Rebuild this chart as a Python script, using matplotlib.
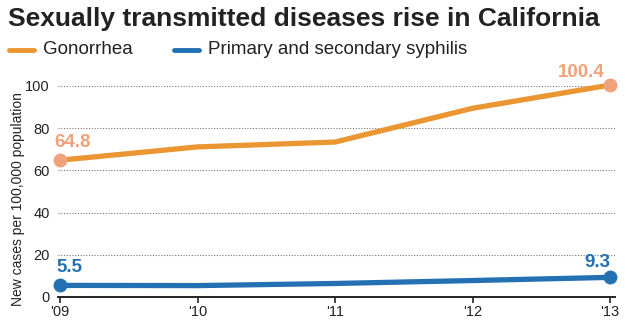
import matplotlib.pyplot as plt

years = ["'09", "'10", "'11", "'12", "'13"]
gonorrhea = [64.8, 71.1, 73.4, 89.4, 100.4]
syphilis = [5.5, 5.4, 6.4, 7.8, 9.3]
yticks = [0, 20, 40, 60, 80, 100]

orange = '#EA9632'
orange_lt = '#F0A27A'
blue = '#2371B2'

plt.rcParams['font.family'] = ['Liberation Sans', 'DejaVu Sans']

fig = plt.figure(figsize=(6.3, 3.26), dpi=100)
W, H = 630, 326
ax = fig.add_axes([58 / W, 1 - 297 / H, (615 - 58) / W, (297 - 80) / H])

x = list(range(len(years)))
ax.plot(x, gonorrhea, color=orange, lw=3.8, solid_capstyle='round', zorder=3)
ax.plot(x, syphilis, color=blue, lw=3.8, solid_capstyle='round', zorder=3)
for s, c in [(gonorrhea, orange_lt), (syphilis, blue)]:
    ax.plot([x[0], x[-1]], [s[0], s[-1]], 'o', color=c, ms=9, zorder=4, clip_on=False)

ax.set_xlim(-2 / 137.5, 4 + 5 / 137.5)
ax.set_ylim(0, 102.8)
ax.set_xticks(x)
ax.set_xticklabels(years, fontsize=10.5, color='#222222')
ax.set_yticks(yticks)
ax.set_yticklabels([str(v) for v in yticks], fontsize=10.5, color='#222222')
ax.tick_params(axis='y', length=0, pad=6)
ax.tick_params(axis='x', length=4, width=1.2, color='#222222', pad=1.5)

for v in yticks[1:]:
    ax.axhline(v, color='#777777', lw=0.8, ls=(0, (1, 1.5)), zorder=1)

for side in ['top', 'right', 'left']:
    ax.spines[side].set_visible(False)
ax.spines['bottom'].set_color('#222222')
ax.spines['bottom'].set_linewidth(1.4)

ax.set_ylabel('New cases per 100,000 population', fontsize=10, color='#222222')
ax.yaxis.set_label_coords(-33 / 557, 0.45)

# value labels on the end points
def label(xi, yi, text, color, dx, dy, ha):
    ax.annotate(text, (xi, yi), xytext=(dx, dy), textcoords='offset pixels',
                ha=ha, va='center', fontsize=13.5, fontweight='bold', color=color)

label(x[0], gonorrhea[0], f'{gonorrhea[0]}', orange_lt, -6, 18, 'left')
label(x[-1], gonorrhea[-1], f'{gonorrhea[-1]}', orange_lt, -5, 13, 'right')
label(x[0], syphilis[0], f'{syphilis[0]}', blue, -4, 18, 'left')
label(x[-1], syphilis[-1], f'{syphilis[-1]}', blue, 0, 15, 'right')

fig.text(8 / W, 1 - 19 / H, 'Sexually transmitted diseases rise in California',
         fontsize=19, fontweight='bold', color='#222222', va='center', ha='left')

# legend row
for lx, name, c in [(8, 'Gonorrhea', orange), (173, 'Primary and secondary syphilis', blue)]:
    fig.add_artist(plt.Line2D([(lx + 1) / W, (lx + 26) / W], [1 - 50 / H] * 2, color=c, lw=3.5,
                              solid_capstyle='round', transform=fig.transFigure))
    fig.text((lx + 35) / W, 1 - 50 / H, name, fontsize=13.5, color='#222222', va='center', ha='left')

fig.savefig('out.png', dpi=100)
